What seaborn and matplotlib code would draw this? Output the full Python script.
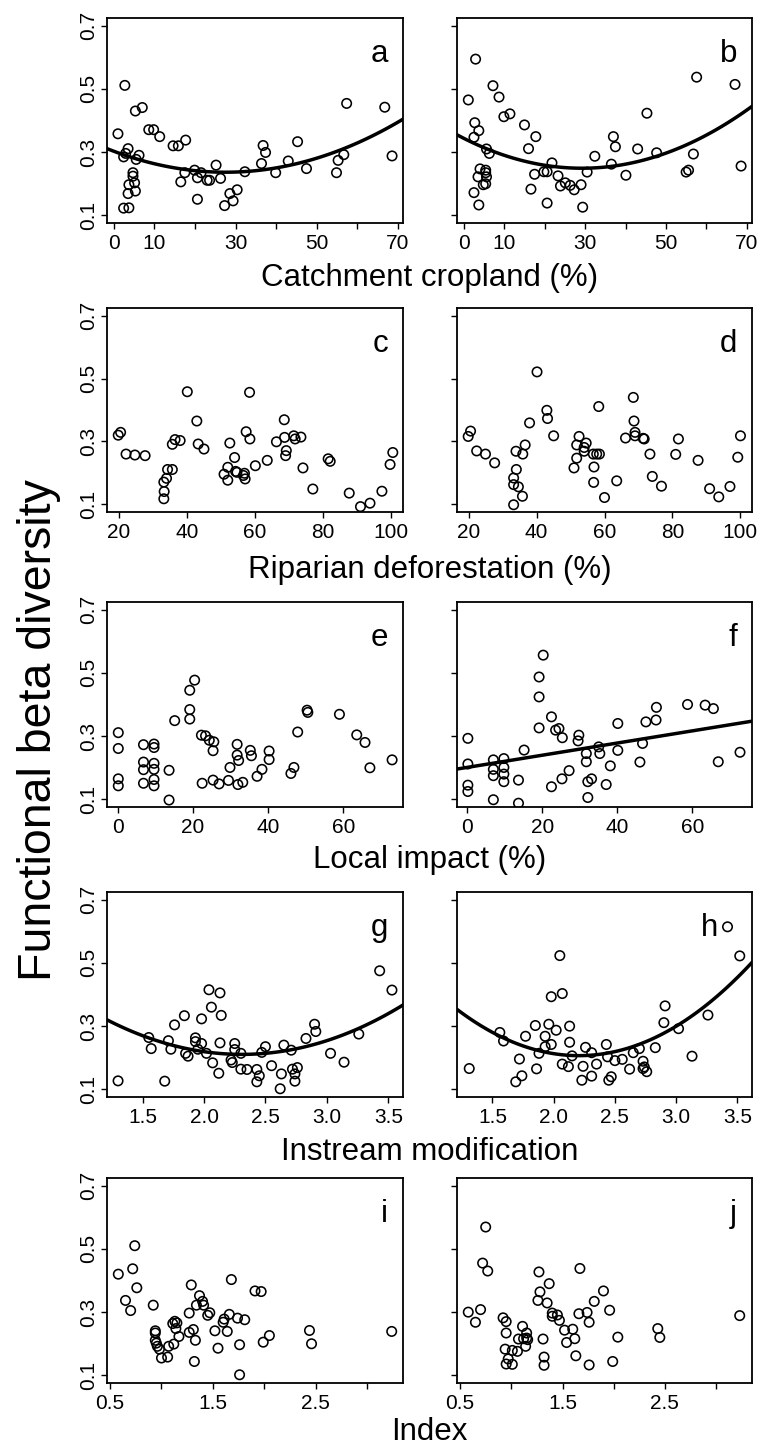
import numpy as np
import matplotlib
matplotlib.use("Agg")
import matplotlib.pyplot as plt
import seaborn as sns

# ---- data ----
# a / b : catchment cropland (%)
a_x = [1.0, 2.7, 2.4, 3.5, 2.9, 5.3, 7.0, 6.2, 5.5, 4.7, 4.7, 5.1, 3.7, 5.3, 3.5, 2.4, 3.7,
       8.6, 9.8, 11.3, 14.6, 15.9, 17.7, 16.5, 17.5, 19.9, 20.6, 21.5, 20.6, 23.0, 23.6,
       25.2, 26.3, 27.3, 28.6, 29.4, 30.4, 32.3, 36.4, 36.8, 37.4, 39.9, 43.0, 45.3, 47.5,
       54.9, 55.3, 56.7, 57.4, 66.8, 68.6]
a_y = [0.358, 0.511, 0.285, 0.311, 0.296, 0.430, 0.441, 0.290, 0.277, 0.235, 0.224, 0.203,
       0.197, 0.177, 0.169, 0.123, 0.124, 0.371, 0.371, 0.349, 0.320, 0.320, 0.338, 0.206,
       0.235, 0.243, 0.219, 0.235, 0.151, 0.211, 0.211, 0.259, 0.217, 0.131, 0.169, 0.146,
       0.181, 0.238, 0.264, 0.321, 0.299, 0.235, 0.272, 0.333, 0.248, 0.235, 0.274, 0.292,
       0.454, 0.442, 0.288]
b_x = [1.1, 2.9, 2.7, 3.7, 2.5, 5.6, 6.3, 4.0, 5.4, 5.4, 3.5, 5.6, 4.8, 5.4, 2.5, 3.7,
       7.2, 8.7, 9.9, 11.4, 15.0, 17.8, 16.0, 17.5, 16.6, 19.8, 20.6, 21.8, 20.6, 23.3,
       23.9, 25.1, 26.3, 27.3, 29.0, 29.4, 30.5, 32.4, 36.5, 37.0, 37.5, 40.1, 43.0, 45.3,
       47.7, 55.0, 55.6, 56.8, 57.6, 67.1, 68.6]
b_y = [0.465, 0.594, 0.393, 0.368, 0.347, 0.310, 0.296, 0.247, 0.243, 0.235, 0.222, 0.222,
       0.197, 0.200, 0.172, 0.133, 0.510, 0.474, 0.412, 0.421, 0.386, 0.349, 0.311, 0.230,
       0.183, 0.238, 0.238, 0.266, 0.139, 0.225, 0.193, 0.203, 0.195, 0.181, 0.197, 0.126,
       0.237, 0.287, 0.262, 0.349, 0.317, 0.227, 0.310, 0.423, 0.298, 0.237, 0.243, 0.294,
       0.537, 0.514, 0.256]

# c / d : riparian deforestation (%)
c_x = [19.8, 20.5, 22.1, 24.7, 27.7, 33.2, 33.3, 33.2, 34.0, 34.3, 35.7, 35.7, 36.5, 38.0,
       40.1, 42.9, 43.3, 45.0, 50.9, 52.0, 52.0, 52.6, 54.0, 54.3, 54.7, 56.6, 56.9, 57.1,
       57.4, 58.4, 58.5, 60.1, 63.6, 66.3, 68.6, 68.7, 69.2, 69.0, 71.4, 71.8, 73.5, 74.1,
       77.0, 81.5, 82.1, 87.7, 91.0, 93.8, 97.3, 99.7, 100.5]
c_y = [0.320, 0.329, 0.260, 0.257, 0.255, 0.171, 0.141, 0.118, 0.183, 0.211, 0.211, 0.291,
       0.306, 0.303, 0.458, 0.365, 0.292, 0.276, 0.196, 0.218, 0.177, 0.295, 0.249, 0.205,
       0.202, 0.192, 0.199, 0.181, 0.331, 0.456, 0.308, 0.223, 0.240, 0.299, 0.369, 0.313,
       0.271, 0.255, 0.318, 0.308, 0.314, 0.216, 0.149, 0.245, 0.237, 0.136, 0.093, 0.104,
       0.142, 0.227, 0.265]
d_x = [19.8, 20.5, 22.3, 24.9, 27.6, 33.2, 33.2, 33.2, 34.0, 33.9, 34.6, 35.8, 35.9, 36.6,
       37.9, 40.1, 43.0, 43.2, 45.0, 51.0, 51.8, 51.8, 52.5, 54.0, 54.6, 54.0, 56.7, 57.7,
       58.5, 56.9, 56.8, 58.3, 60.0, 63.6, 66.2, 68.5, 68.7, 69.0, 69.0, 71.4, 71.7, 73.4,
       74.1, 76.8, 81.0, 81.8, 87.6, 91.0, 93.7, 97.0, 99.3, 100.1]
d_y = [0.316, 0.333, 0.270, 0.260, 0.232, 0.099, 0.184, 0.163, 0.211, 0.269, 0.156, 0.126,
       0.260, 0.289, 0.359, 0.521, 0.399, 0.373, 0.318, 0.216, 0.247, 0.289, 0.316, 0.281,
       0.295, 0.269, 0.260, 0.260, 0.260, 0.219, 0.170, 0.411, 0.122, 0.175, 0.311, 0.440,
       0.365, 0.329, 0.318, 0.310, 0.308, 0.260, 0.189, 0.158, 0.259, 0.308, 0.240, 0.150,
       0.124, 0.157, 0.250, 0.318]

# e / f : local impact (%)
e_x = [0.2, 0.2, 0.2, 0.2, 6.9, 6.9, 6.9, 6.9, 9.7, 9.7, 9.7, 9.7, 9.7, 9.7, 13.7, 13.7,
       15.2, 19.2, 20.5, 19.2, 19.2, 22.3, 23.4, 24.4, 25.6, 25.4, 22.5, 25.4, 27.0, 29.5,
       29.9, 31.8, 31.8, 32.2, 32.0, 33.3, 35.3, 35.6, 37.1, 38.4, 40.3, 40.3, 46.1, 46.9,
       47.9, 50.4, 50.6, 59.0, 63.6, 65.8, 67.1, 73.0]
e_y = [0.311, 0.261, 0.165, 0.143, 0.273, 0.218, 0.194, 0.151, 0.275, 0.264, 0.214, 0.195,
       0.163, 0.143, 0.192, 0.098, 0.349, 0.445, 0.477, 0.384, 0.354, 0.303, 0.301, 0.287,
       0.282, 0.254, 0.151, 0.161, 0.149, 0.160, 0.201, 0.274, 0.240, 0.223, 0.147, 0.154,
       0.255, 0.238, 0.173, 0.195, 0.253, 0.226, 0.182, 0.201, 0.313, 0.382, 0.375, 0.369,
       0.304, 0.280, 0.200, 0.225]
f_x = [0.1, 0.1, 0.1, 0.1, 6.9, 6.9, 6.9, 6.9, 9.7, 9.7, 9.7, 9.7, 13.6, 13.6, 15.1, 20.2,
       19.1, 19.1, 19.1, 22.4, 23.5, 24.4, 25.3, 29.7, 29.5, 22.4, 25.2, 27.1, 31.7, 31.7,
       32.1, 33.1, 32.1, 35.0, 35.3, 37.0, 38.1, 40.1, 40.1, 46.0, 46.7, 47.6, 50.3, 50.4,
       58.7, 63.4, 65.6, 66.9, 72.7]
f_y = [0.293, 0.212, 0.145, 0.125, 0.225, 0.195, 0.175, 0.099, 0.229, 0.201, 0.180, 0.156,
       0.161, 0.088, 0.256, 0.556, 0.487, 0.424, 0.326, 0.361, 0.319, 0.324, 0.295, 0.303,
       0.285, 0.140, 0.165, 0.191, 0.245, 0.219, 0.156, 0.165, 0.106, 0.266, 0.245, 0.147,
       0.206, 0.340, 0.255, 0.218, 0.277, 0.345, 0.351, 0.391, 0.400, 0.398, 0.387, 0.219,
       0.249]

# g / h : instream modification
g_x = [1.30, 1.55, 1.57, 1.68, 1.71, 1.73, 1.76, 1.84, 1.85, 1.87, 1.93, 1.93, 1.95, 1.98,
       1.98, 2.02, 2.04, 2.06, 2.07, 2.12, 2.13, 2.14, 2.13, 2.22, 2.23, 2.25, 2.25, 2.30,
       2.30, 2.35, 2.43, 2.43, 2.45, 2.47, 2.50, 2.55, 2.63, 2.62, 2.65, 2.71, 2.72, 2.74,
       2.74, 2.76, 2.83, 2.90, 2.91, 3.03, 3.14, 3.26, 3.43, 3.53]
g_y = [0.127, 0.264, 0.229, 0.126, 0.254, 0.227, 0.304, 0.333, 0.214, 0.205, 0.263, 0.251,
       0.227, 0.245, 0.323, 0.214, 0.415, 0.360, 0.184, 0.151, 0.405, 0.334, 0.247, 0.193,
       0.185, 0.245, 0.226, 0.214, 0.164, 0.163, 0.163, 0.124, 0.143, 0.217, 0.235, 0.175,
       0.149, 0.102, 0.240, 0.224, 0.164, 0.149, 0.126, 0.169, 0.261, 0.306, 0.283, 0.214,
       0.186, 0.275, 0.475, 0.414]
h_x = [1.31, 1.56, 1.59, 1.69, 1.72, 1.74, 1.77, 1.85, 1.86, 1.88, 1.93, 1.93, 1.96, 1.98,
       1.98, 2.02, 2.05, 2.07, 2.07, 2.12, 2.13, 2.13, 2.15, 2.23, 2.24, 2.26, 2.31, 2.31,
       2.35, 2.43, 2.44, 2.45, 2.47, 2.50, 2.56, 2.62, 2.65, 2.70, 2.73, 2.73, 2.74, 2.76,
       2.83, 2.90, 2.91, 3.02, 3.13, 3.26, 3.42, 3.52]
h_y = [0.166, 0.280, 0.253, 0.124, 0.196, 0.143, 0.268, 0.302, 0.165, 0.214, 0.235, 0.268,
       0.306, 0.393, 0.242, 0.287, 0.523, 0.403, 0.180, 0.172, 0.300, 0.249, 0.206, 0.129,
       0.173, 0.233, 0.216, 0.142, 0.180, 0.242, 0.203, 0.129, 0.140, 0.191, 0.195, 0.164,
       0.216, 0.229, 0.189, 0.166, 0.171, 0.156, 0.232, 0.311, 0.364, 0.292, 0.205, 0.335,
       0.614, 0.522]

# i / j : index
i_x = [0.58, 0.65, 0.70, 0.72, 0.74, 0.76, 0.92, 0.94, 0.94, 0.94, 0.95, 0.96, 0.98, 1.00,
       1.06, 1.07, 1.12, 1.11, 1.13, 1.15, 1.14, 1.17, 1.27, 1.27, 1.29, 1.31, 1.33, 1.32,
       1.34, 1.37, 1.40, 1.41, 1.45, 1.47, 1.52, 1.55, 1.60, 1.61, 1.64, 1.66, 1.68, 1.74,
       1.76, 1.76, 1.81, 1.91, 1.97, 1.99, 2.05, 2.44, 2.46, 3.24]
i_y = [0.420, 0.337, 0.305, 0.437, 0.510, 0.377, 0.322, 0.241, 0.234, 0.211, 0.202, 0.192,
       0.183, 0.155, 0.158, 0.192, 0.199, 0.264, 0.271, 0.266, 0.248, 0.223, 0.236, 0.297,
       0.386, 0.245, 0.211, 0.144, 0.322, 0.352, 0.334, 0.322, 0.290, 0.298, 0.241, 0.186,
       0.268, 0.278, 0.239, 0.293, 0.403, 0.281, 0.197, 0.102, 0.276, 0.367, 0.365, 0.205,
       0.226, 0.242, 0.200, 0.239]
j_x = [0.58, 0.65, 0.70, 0.72, 0.75, 0.77, 0.92, 0.95, 0.95, 0.94, 0.97, 0.95, 1.01, 1.01,
       1.06, 1.07, 1.11, 1.12, 1.14, 1.15, 1.15, 1.16, 1.26, 1.27, 1.28, 1.31, 1.32, 1.32,
       1.35, 1.37, 1.40, 1.40, 1.45, 1.47, 1.52, 1.54, 1.60, 1.62, 1.63, 1.66, 1.67, 1.74,
       1.76, 1.76, 1.81, 1.90, 1.96, 1.99, 2.04, 2.43, 2.45, 3.23]
j_y = [0.300, 0.268, 0.308, 0.455, 0.569, 0.430, 0.282, 0.270, 0.234, 0.183, 0.152, 0.136,
       0.135, 0.179, 0.176, 0.215, 0.255, 0.216, 0.192, 0.234, 0.218, 0.213, 0.337, 0.427,
       0.364, 0.215, 0.158, 0.132, 0.329, 0.390, 0.297, 0.287, 0.291, 0.274, 0.243, 0.204,
       0.246, 0.216, 0.162, 0.295, 0.438, 0.299, 0.268, 0.133, 0.334, 0.367, 0.306, 0.144,
       0.221, 0.248, 0.220, 0.289]

row_labels = ["Catchment cropland (%)", "Riparian deforestation (%)", "Local impact (%)",
              "Instream modification", "Index"]
row_xticks = [[0, 10, 20, 30, 40, 50, 60, 70],
              [20, 40, 60, 80, 100],
              [0, 20, 40, 60],
              [1.5, 2.0, 2.5, 3.0, 3.5],
              [0.5, 1.0, 1.5, 2.0, 2.5, 3.0]]
row_xticklabels = [["0", "10", "", "30", "", "50", "", "70"],
                   ["20", "40", "60", "80", "100"],
                   ["0", "20", "40", "60"],
                   ["1.5", "2.0", "2.5", "3.0", "3.5"],
                   ["0.5", "", "1.5", "", "2.5", ""]]
row_xlim = [(-1.7, 71.3), (16.5, 103.5), (-2.8, 75.9), (1.21, 3.62), (0.47, 3.35)]
yticks = [0.1, 0.3, 0.5, 0.7]

panels = [
    ("a", a_x, a_y, 2), ("b", b_x, b_y, 2),
    ("c", c_x, c_y, None), ("d", d_x, d_y, None),
    ("e", e_x, e_y, None), ("f", f_x, f_y, 1),
    ("g", g_x, g_y, 2), ("h", h_x, h_y, 2),
    ("i", i_x, i_y, None), ("j", j_x, j_y, None),
]

# ---- style ----
sns.set_style("ticks", {"text.color": "black", "axes.labelcolor": "black",
                        "xtick.color": "black", "ytick.color": "black",
                        "axes.edgecolor": "black"})
plt.rcParams["font.family"] = ["Liberation Sans", "DejaVu Sans"]

W, H = 772, 1447
fig = plt.figure(figsize=(W / 100, H / 100), dpi=100)

col_px = [(107, 403), (457, 752)]
row_px = [(18, 223), (308, 512), (602, 807), (892, 1097), (1178, 1383)]
label_base = [286, 578, 868, 1160, 1440]

for k, (letter, xs, ys, order) in enumerate(panels):
    r, c = divmod(k, 2)
    x0, x1 = col_px[c]
    t, b = row_px[r]
    ax = fig.add_axes([x0 / W, 1 - b / H, (x1 - x0) / W, (b - t) / H])
    xs = np.array(xs)
    ys = np.array(ys)
    ax.set_xlim(row_xlim[r])
    ax.set_ylim(0.076, 0.724)
    sns.scatterplot(x=xs, y=ys, ax=ax, s=46, facecolor="none", edgecolor="black",
                    linewidth=1.15, zorder=3)
    if order:
        sns.regplot(x=xs, y=ys, ax=ax, order=order, ci=None, scatter=False,
                    truncate=False, line_kws=dict(color="black", lw=2.5))
    ax.set_xlim(row_xlim[r])
    ax.set_ylim(0.076, 0.724)
    ax.set_xlabel("")
    ax.set_ylabel("")
    ax.set_xticks(row_xticks[r])
    ax.set_xticklabels(row_xticklabels[r])
    ax.set_yticks(yticks)
    if c == 0:
        ax.set_yticklabels(["0.1", "0.3", "0.5", "0.7"], rotation=90, va="center")
    else:
        ax.set_yticklabels([])
    ax.tick_params(direction="out", length=4, width=1.0, labelsize=15, colors="black")
    ax.tick_params(axis="x", pad=4)
    ax.tick_params(axis="y", pad=2.5)
    for sp in ax.spines.values():
        sp.set_visible(True)
        sp.set_linewidth(1.3)
        sp.set_color("black")
    # letter "h" sits left of a high point in the original
    off = 34 if letter == "h" else 15
    ax.text(1 - off / (x1 - x0), 1 - 44 / (b - t), letter, transform=ax.transAxes,
            ha="right", va="baseline", fontsize=22.5, color="black")

for r, lab in enumerate(row_labels):
    fig.text(429.5 / W, 1 - label_base[r] / H, lab, ha="center", va="baseline",
             fontsize=22.5, color="black")

fig.text(17 / W, 1 - 730 / H, "Functional beta diversity", rotation=90,
         ha="left", va="center", fontsize=33.5, color="black")

fig.savefig("out.png", dpi=100, facecolor="white")
